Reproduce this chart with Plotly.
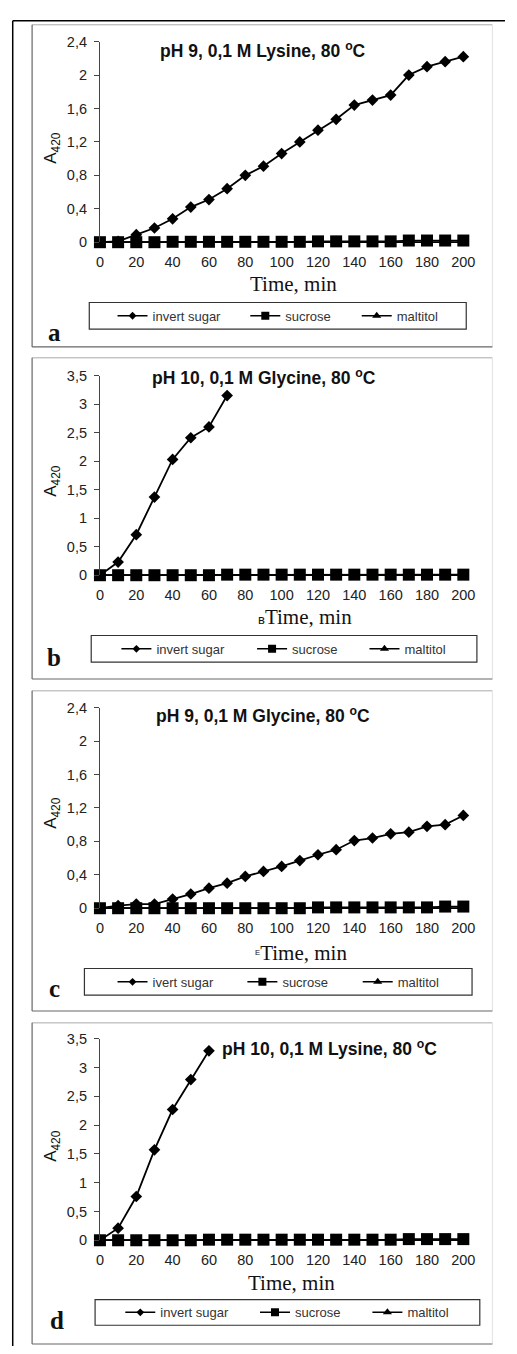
import plotly.graph_objects as go

W, H = 517, 1354

# ---------------- data ----------------
time = [0, 10, 20, 30, 40, 50, 60, 70, 80, 90, 100, 110, 120, 130, 140, 150, 160, 170, 180, 190, 200]
x_ticks = [0, 20, 40, 60, 80, 100, 120, 140, 160, 180, 200]
x_ticktext = ["0", "20", "40", "60", "80", "100", "120", "140", "160", "180", "200"]

y_ticks_24 = [0, 0.4, 0.8, 1.2, 1.6, 2.0, 2.4]
y_ticktext_24 = ["0", "0,4", "0,8", "1,2", "1,6", "2", "2,4"]
y_ticks_35 = [0, 0.5, 1.0, 1.5, 2.0, 2.5, 3.0, 3.5]
y_ticktext_35 = ["0", "0,5", "1", "1,5", "2", "2,5", "3", "3,5"]

# panel a: pH 9, Lysine
a_time_invert = [0, 10, 20, 30, 40, 50, 60, 70, 80, 90, 100, 110, 120, 130, 140, 150, 160, 170, 180, 190, 200]
a_invert = [0, 0.01, 0.09, 0.17, 0.28, 0.42, 0.51, 0.64, 0.80, 0.91, 1.06, 1.20, 1.34, 1.47, 1.64, 1.70, 1.76, 2.00, 2.10, 2.16, 2.22]
a_sucrose = [0, 0, 0, 0, 0.005, 0.005, 0.005, 0.005, 0.005, 0.005, 0.005, 0.005, 0.01, 0.01, 0.01, 0.01, 0.01, 0.02, 0.02, 0.02, 0.02]
a_maltitol = [0, 0, 0, 0, 0, 0, 0, 0, 0, 0, 0, 0, 0, 0, 0, 0, 0, 0, 0, 0, 0]

# panel b: pH 10, Glycine
b_time_invert = [0, 10, 20, 30, 40, 50, 60, 70]
b_invert = [0, 0.23, 0.71, 1.37, 2.03, 2.41, 2.60, 3.15]
b_sucrose = [0, 0, 0, 0, 0, 0, 0, 0.01, 0.01, 0.01, 0.01, 0.01, 0.01, 0.01, 0.01, 0.01, 0.01, 0.01, 0.01, 0.01, 0.01]
b_maltitol = [0, 0, 0, 0, 0, 0, 0, 0, 0, 0, 0, 0, 0, 0, 0, 0, 0, 0, 0, 0, 0]

# panel c: pH 9, Glycine
c_time_invert = [0, 10, 20, 30, 40, 50, 60, 70, 80, 90, 100, 110, 120, 130, 140, 150, 160, 170, 180, 190, 200]
c_invert = [0, 0.03, 0.05, 0.05, 0.11, 0.17, 0.24, 0.30, 0.38, 0.44, 0.50, 0.57, 0.64, 0.70, 0.81, 0.84, 0.89, 0.91, 0.98, 1.00, 1.11]
c_sucrose = [0, 0, 0, 0, 0, 0, 0, 0, 0, 0, 0, 0, 0.01, 0.01, 0.01, 0.01, 0.01, 0.01, 0.01, 0.02, 0.02]
c_maltitol = [0, 0, 0, 0, 0, 0, 0, 0, 0, 0, 0, 0, 0, 0, 0, 0, 0, 0, 0, 0, 0]

# panel d: pH 10, Lysine
d_time_invert = [0, 10, 20, 30, 40, 50, 60]
d_invert = [0, 0.21, 0.76, 1.57, 2.27, 2.79, 3.29]
d_sucrose = [0, 0, 0, 0, 0, 0, 0.01, 0.01, 0.01, 0.01, 0.01, 0.01, 0.01, 0.01, 0.01, 0.01, 0.01, 0.02, 0.02, 0.02, 0.02]
d_maltitol = [0, 0, 0, 0, 0, 0, 0, 0, 0, 0, 0, 0, 0, 0, 0, 0, 0, 0, 0, 0, 0]

titles = ["pH 9, 0,1 M Lysine, 80 <sup>o</sup>C", "pH 10, 0,1 M Glycine, 80 <sup>o</sup>C",
          "pH 9, 0,1 M Glycine, 80 <sup>o</sup>C", "pH 10, 0,1 M Lysine, 80 <sup>o</sup>C"]
xtitles = ["Time, min",
           "<span style='font-family:Liberation Sans;font-size:13px'>в</span>Time, min",
           "<span style='font-family:Liberation Sans;font-size:11px'><sup>E</sup></span>Time, min",
           "Time, min"]
letters = ["a", "b", "c", "d"]
invert_names = ["invert sugar", "invert sugar", "ivert sugar", "invert sugar"]

# ---------------- layout geometry (pixels) ----------------
def px(x):
    return x / W

def py(y):
    return 1 - y / H

panels = [
    dict(ti=a_time_invert, inv=a_invert, suc=a_sucrose, mal=a_maltitol, ymax=2.4, yt=y_ticks_24, ytt=y_ticktext_24,
         top=34, bot=237, frame=(17, 343), title=(267, 42), xt=(299, 279), box=(88, 477, 298, 325),
         items=(120, 257, 372), letter=(52, 328), ylab=141),
    dict(ti=b_time_invert, inv=b_invert, suc=b_sucrose, mal=b_maltitol, ymax=3.5, yt=y_ticks_35, ytt=y_ticktext_35,
         top=372, bot=574, frame=(354, 679), title=(268, 373), xt=(311, 616), box=(90, 488, 635, 662),
         items=(124, 264, 380), letter=(52, 657), ylab=478),
    dict(ti=c_time_invert, inv=c_invert, suc=c_sucrose, mal=c_maltitol, ymax=2.4, yt=y_ticks_24, ytt=y_ticktext_24,
         top=708, bot=911, frame=(691, 1015), title=(267, 715), xt=(307, 956), box=(83, 483, 972, 999),
         items=(120, 254, 373), letter=(52, 992), ylab=814),
    dict(ti=d_time_invert, inv=d_invert, suc=d_sucrose, mal=d_maltitol, ymax=3.5, yt=y_ticks_35, ytt=y_ticktext_35,
         top=1043, bot=1247, frame=(1027, 1352), title=(336, 1052), xt=(297, 1290), box=(94, 491, 1307, 1333),
         items=(128, 267, 383), letter=(55, 1328), ylab=1151),
]

X0, X1 = 99, 474
fig = go.Figure()
shapes = []
annotations = []
layout = dict(width=W, height=H, margin=dict(l=0, r=0, t=0, b=0),
              paper_bgcolor="white", plot_bgcolor="white", showlegend=True, hovermode=False)

# outer black border lines
shapes.append(dict(type="line", xref="paper", yref="paper", x0=px(9), x1=1.0, y0=py(13), y1=py(13),
                   line=dict(color="black", width=1.5)))
shapes.append(dict(type="line", xref="paper", yref="paper", x0=px(9), x1=px(9), y0=py(13), y1=0,
                   line=dict(color="black", width=1.5)))

tick_font = dict(family="Liberation Sans, Arial", size=14.5, color="#222")
LW = 1.8
k = 0

for i, p in enumerate(panels):
    n = "" if i == 0 else str(i + 1)
    xa, ya = "x" + n, "y" + n

    layout["xaxis" + n] = dict(domain=[px(X0), px(X1)], range=[0, 200], anchor=ya,
                                tickvals=x_ticks, ticktext=x_ticktext, tickfont=tick_font,
                                showline=True, linecolor="black", linewidth=1, showgrid=False,
                                zeroline=False, ticks="", ticklabelstandoff=6, fixedrange=True)
    layout["yaxis" + n] = dict(domain=[py(p["bot"]), py(p["top"])], range=[0, p["ymax"]], anchor=xa,
                                tickvals=p["yt"], ticktext=p["ytt"], tickfont=tick_font,
                                showline=True, linecolor="#444", linewidth=1, showgrid=False,
                                zeroline=False, ticks="outside", ticklen=5, tickcolor="#444",
                                ticklabelstandoff=4, fixedrange=True)

    # data traces
    fig.add_trace(go.Scatter(x=p["ti"], y=p["inv"], mode="lines+markers", name=invert_names[i],
                             xaxis=xa, yaxis=ya, showlegend=False, cliponaxis=False,
                             line=dict(color="black", width=LW),
                             marker=dict(symbol="diamond", size=9, color="black")))
    fig.add_trace(go.Scatter(x=time, y=p["mal"], mode="lines+markers", name="maltitol",
                             xaxis=xa, yaxis=ya, showlegend=False, cliponaxis=False,
                             line=dict(color="black", width=LW),
                             marker=dict(symbol="triangle-up", size=8, color="black")))
    fig.add_trace(go.Scatter(x=time, y=p["suc"], mode="lines+markers", name="sucrose",
                             xaxis=xa, yaxis=ya, showlegend=False, cliponaxis=False,
                             line=dict(color="black", width=LW),
                             marker=dict(symbol="square", size=12, color="black")))

    # legend box
    bx0, bx1, by0, by1 = p["box"]
    shapes.append(dict(type="rect", xref="paper", yref="paper", x0=px(bx0), x1=px(bx1), y0=py(by1), y1=py(by0),
                       line=dict(color="#333", width=1.2), fillcolor="rgba(0,0,0,0)"))
    ymid = (by0 + by1) / 2

    # legend-only entries (one legend per entry so each can be placed like the original)
    for (nm, sym, sz), xs in zip([(invert_names[i], "diamond", 6), ("sucrose", "square", 8),
                                  ("maltitol", "triangle-up", 8)], p["items"]):
        k += 1
        leg = "legend" if k == 1 else "legend" + str(k)
        fig.add_trace(go.Scatter(x=[None], y=[None], mode="lines+markers", name=nm,
                                 xaxis=xa, yaxis=ya, legend=leg, showlegend=True,
                                 line=dict(color="black", width=1.5),
                                 marker=dict(symbol=sym, size=sz, color="black")))
        layout[leg] = dict(orientation="h", x=px(xs - 8), y=py(ymid), xanchor="left", yanchor="middle",
                           borderwidth=0, bgcolor="rgba(0,0,0,0)",
                           font=dict(family="Liberation Sans, Arial", size=13, color="#333"),
                           itemclick=False, itemdoubleclick=False)

    # panel frame
    ft, fb = p["frame"]
    shapes.append(dict(type="line", xref="paper", yref="paper", x0=px(29), x1=px(504), y0=py(ft), y1=py(ft),
                       line=dict(color="#aaaaaa", width=1)))
    shapes.append(dict(type="line", xref="paper", yref="paper", x0=px(504), x1=px(504), y0=py(ft), y1=py(fb),
                       line=dict(color="#e2e2e2", width=1)))
    shapes.append(dict(type="line", xref="paper", yref="paper", x0=px(29), x1=px(29), y0=py(ft), y1=py(fb),
                       line=dict(color="#666666", width=1.2)))
    shapes.append(dict(type="line", xref="paper", yref="paper", x0=px(29), x1=px(504), y0=py(fb), y1=py(fb),
                       line=dict(color="#666666", width=1.2)))

    # chart title
    annotations.append(dict(text="<b>" + titles[i] + "</b>", xref="paper", yref="paper",
                            x=px(p["title"][0]), y=py(p["title"][1]), xanchor="center", yanchor="middle",
                            showarrow=False, font=dict(family="Liberation Sans, Arial", size=17.5, color="#111")))
    # x title
    annotations.append(dict(text=xtitles[i], xref="paper", yref="paper",
                            x=px(p["xt"][0]), y=py(p["xt"][1]), xanchor="center", yanchor="middle",
                            showarrow=False, font=dict(family="Liberation Serif, Times New Roman", size=21, color="#111")))
    # y title
    annotations.append(dict(text="A<sub>420</sub>", xref="paper", yref="paper", textangle=-90,
                            x=px(50), y=py(p["ylab"]), xanchor="center", yanchor="middle",
                            showarrow=False, font=dict(family="Liberation Sans, Arial", size=17, color="#111")))
    # panel letter
    annotations.append(dict(text="<b>" + letters[i] + "</b>", xref="paper", yref="paper",
                            x=px(p["letter"][0]), y=py(p["letter"][1]), xanchor="center", yanchor="middle",
                            showarrow=False, font=dict(family="Liberation Serif, Times New Roman", size=25, color="#111")))

layout["shapes"] = shapes
layout["annotations"] = annotations
fig.update_layout(**layout)
fig.write_html("out.html", config={"displayModeBar": False, "staticPlot": True},
               post_script="document.body.style.margin='0';")
